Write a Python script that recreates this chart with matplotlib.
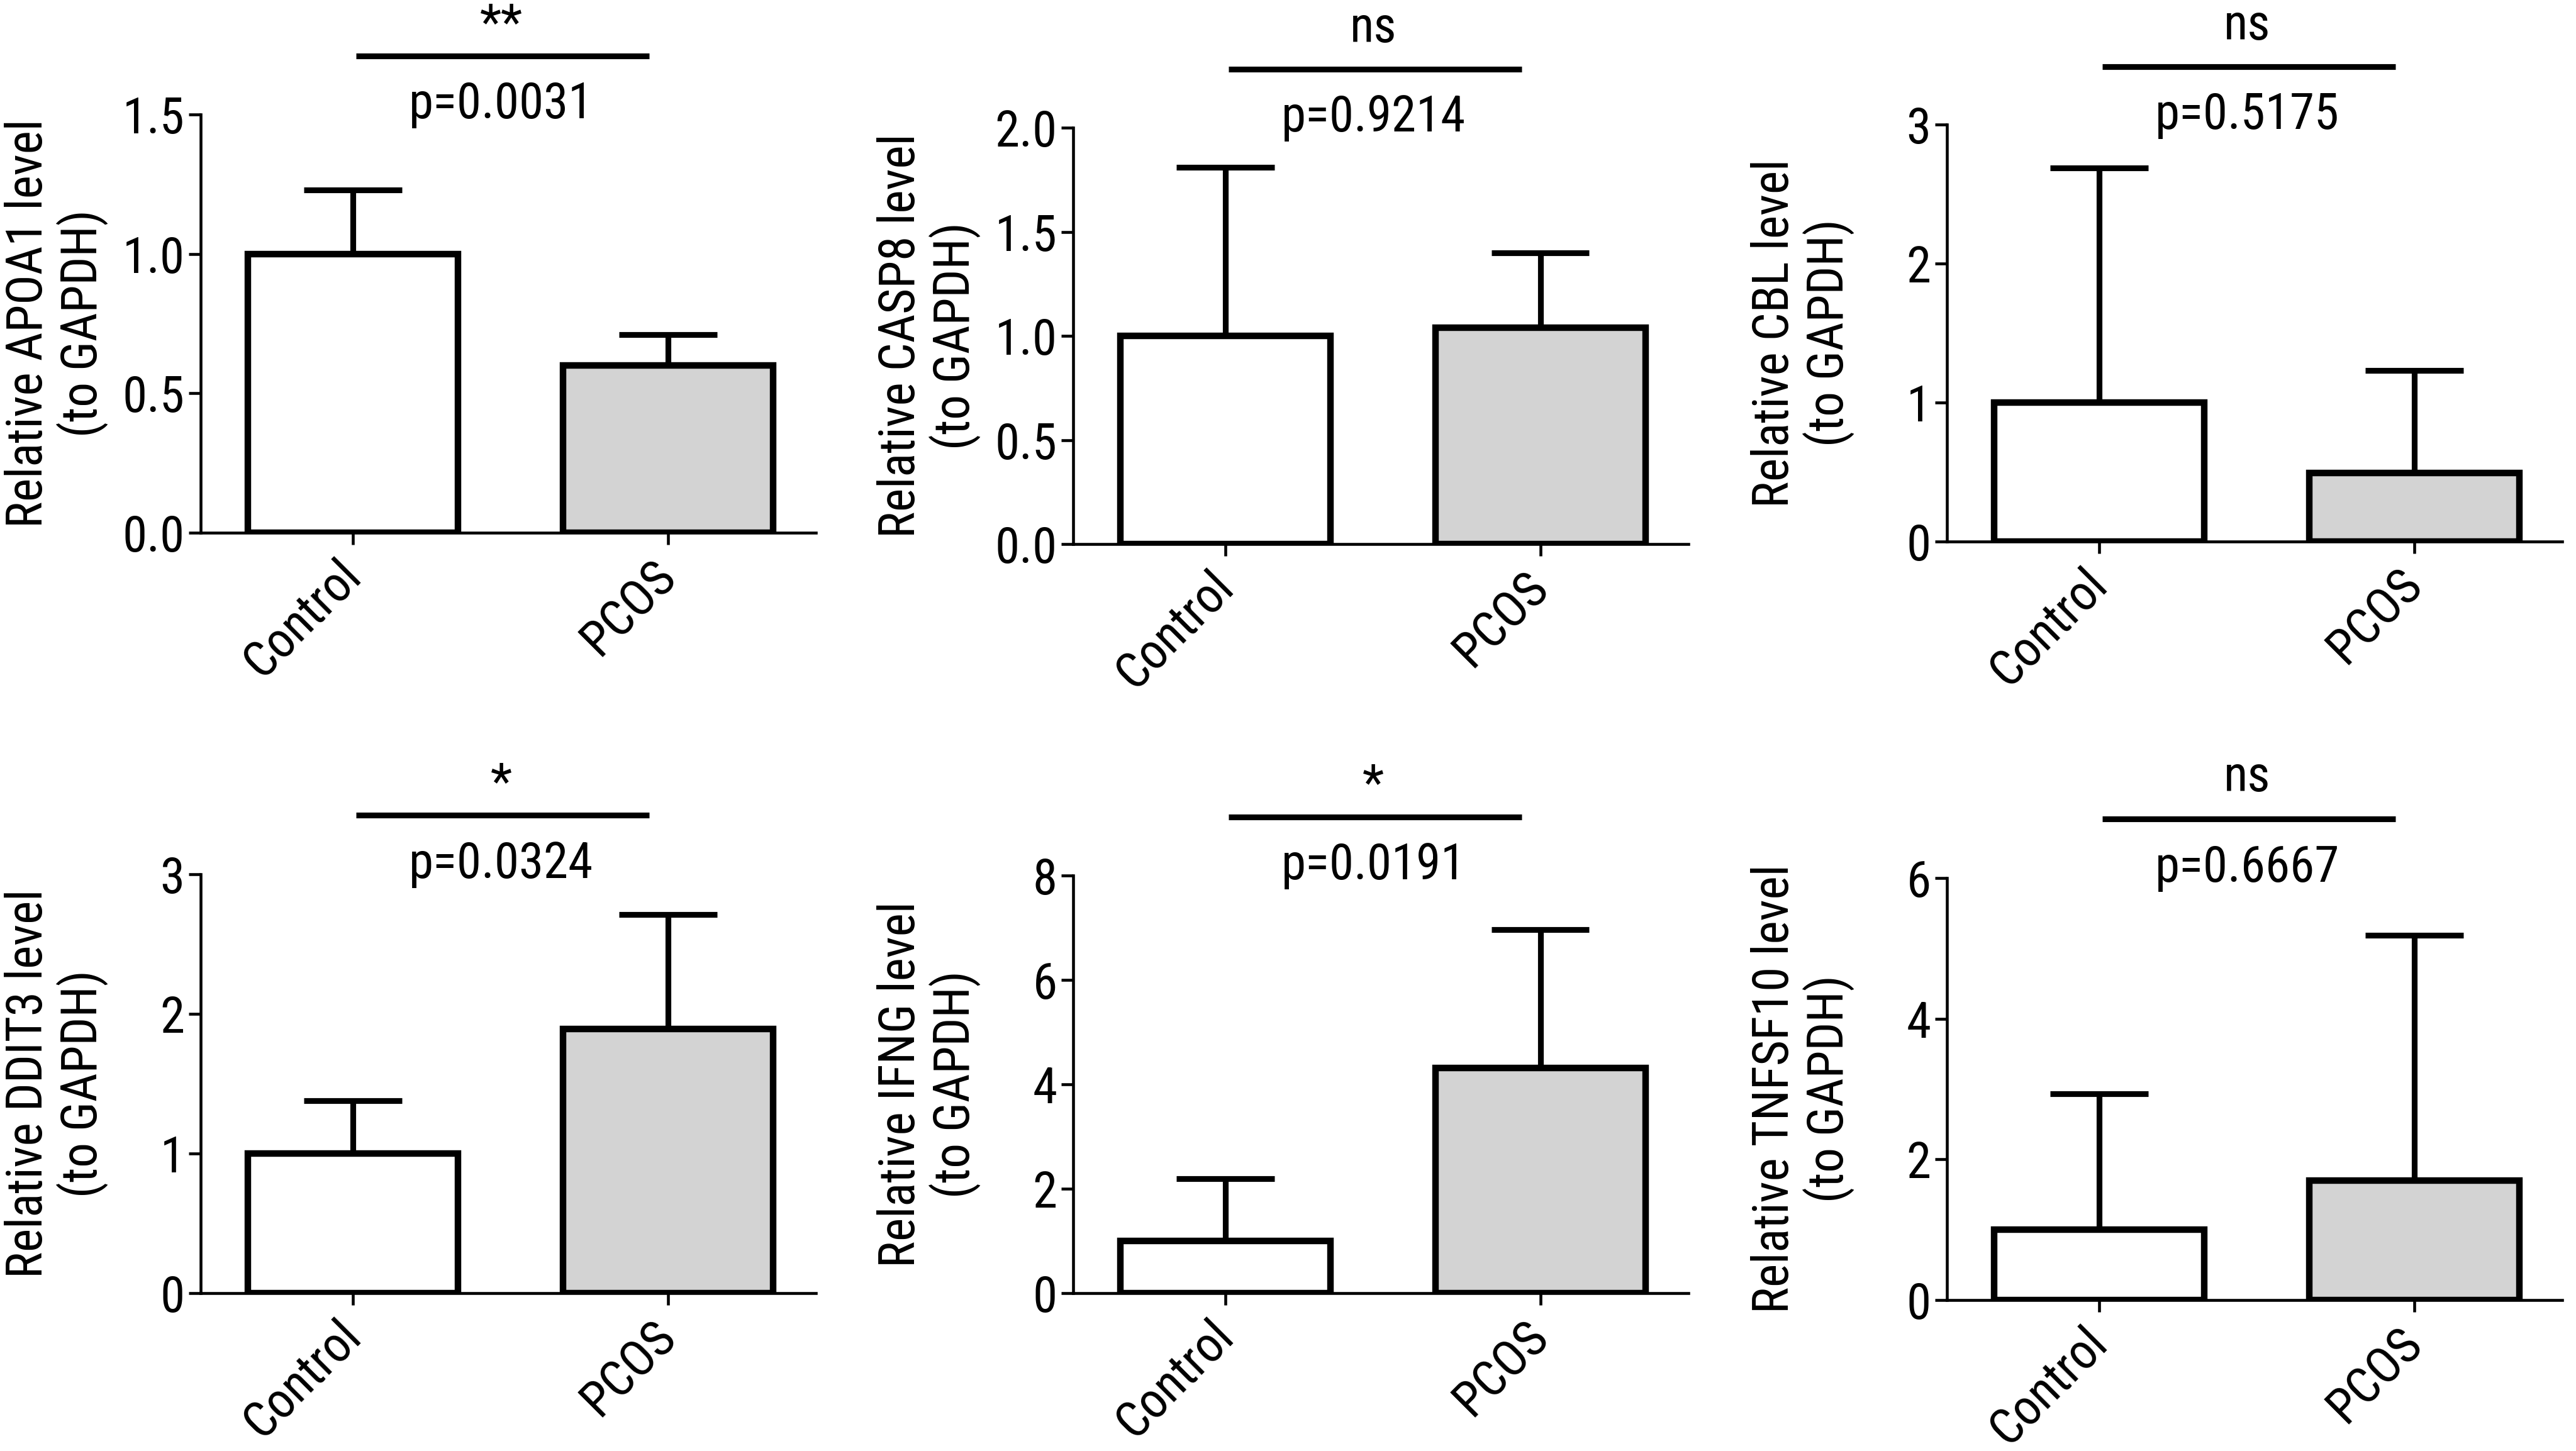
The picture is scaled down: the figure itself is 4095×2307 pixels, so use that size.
import matplotlib
matplotlib.use("Agg")
import matplotlib.pyplot as plt
from matplotlib import font_manager as fm
from matplotlib.font_manager import FontProperties
import numpy as np

# ---------------- data ----------------
groups = ["Control", "PCOS"]
genes = ["APOA1", "CASP8", "CBL", "DDIT3", "IFNG", "TNFSF10"]
means = {
    "APOA1": [1.0, 0.60],
    "CASP8": [1.0, 1.04],
    "CBL": [1.0, 0.49],
    "DDIT3": [1.0, 1.89],
    "IFNG": [1.0, 4.31],
    "TNFSF10": [1.0, 1.70],
}
err_top = {
    "APOA1": [1.23, 0.71],
    "CASP8": [1.81, 1.40],
    "CBL": [2.69, 1.23],
    "DDIT3": [1.38, 2.71],
    "IFNG": [2.19, 6.96],
    "TNFSF10": [2.93, 5.18],
}
yticks = {
    "APOA1": [0.0, 0.5, 1.0, 1.5],
    "CASP8": [0.0, 0.5, 1.0, 1.5, 2.0],
    "CBL": [0, 1, 2, 3],
    "DDIT3": [0, 1, 2, 3],
    "IFNG": [0, 2, 4, 6, 8],
    "TNFSF10": [0, 2, 4, 6],
}
tickfmt = {"APOA1": "{:.1f}", "CASP8": "{:.1f}", "CBL": "{:d}", "DDIT3": "{:d}", "IFNG": "{:d}", "TNFSF10": "{:d}"}
signif = {"APOA1": "**", "CASP8": "ns", "CBL": "ns", "DDIT3": "*", "IFNG": "*", "TNFSF10": "ns"}
pvals = {"APOA1": "p=0.0031", "CASP8": "p=0.9214", "CBL": "p=0.5175",
         "DDIT3": "p=0.0324", "IFNG": "p=0.0191", "TNFSF10": "p=0.6667"}
fills = ["white", "#d3d3d3"]

# ---------------- font choice (condensed Arial-like if available) ----------------
def pick_font():
    prefs = ["liberation sans narrow", "arial narrow", "roboto condensed",
             "open sans condensed", "noto sans condensed", "dejavu sans condensed"]
    found = {}
    for f in fm.fontManager.ttflist:
        low = (f.name + " " + f.fname.split("/")[-1]).lower()
        if not ("narrow" in low or "condensed" in low):
            continue
        if any(k in low for k in ["semi", "extra", "ultra", "bold", "italic", "light",
                                   "thin", "medium", "black", "oblique"]):
            continue
        for p in prefs:
            key = p.replace(" ", "")
            if key in low.replace(" ", "").replace("-", "") or p in low:
                found.setdefault(p, f.fname)
    for p in prefs:
        if p in found:
            return found[p], True
    return None, False

fpath, narrow = pick_font()
plt.rcParams['font.family'] = ['Liberation Sans', 'DejaVu Sans']
FS = 19.0 if narrow else 17.0


def fp(size=FS):
    if fpath:
        return FontProperties(fname=fpath, size=size)
    return FontProperties(family=['Liberation Sans', 'DejaVu Sans'], size=size)


fig = plt.figure(figsize=(13.65, 7.69), dpi=300)

rects = [
    [0.0778, 0.633, 0.239, 0.288],
    [0.4165, 0.625, 0.239, 0.287],
    [0.7557, 0.627, 0.239, 0.287],
    [0.0778, 0.1087, 0.239, 0.289],
    [0.4165, 0.1087, 0.239, 0.288],
    [0.7557, 0.104, 0.239, 0.291],
]

x = np.arange(len(groups))
bw = 0.667
for gene, rect in zip(genes, rects):
    ax = fig.add_axes(rect)
    m = means[gene]
    e = err_top[gene]
    for xi, mi, ei in zip(x, m, e):
        ax.vlines(xi, mi, ei, color='black', lw=2.2, zorder=1)
        ax.hlines(ei, xi - 0.155, xi + 0.155, color='black', lw=2.2, zorder=1)
    ax.bar(x, m, width=bw, color=fills, edgecolor='black', linewidth=2.5, zorder=2)
    yt = yticks[gene]
    ax.set_ylim(0, yt[-1])
    ax.set_xlim(-0.484, 1.47)
    ax.set_yticks(yt)
    ax.set_yticklabels([tickfmt[gene].format(t) for t in yt], fontproperties=fp())
    ax.set_xticks(x)
    ax.set_xticklabels(groups, fontproperties=fp(), rotation=45, ha='right', va='center',
                       rotation_mode='anchor')
    for s in ['top', 'right']:
        ax.spines[s].set_visible(False)
    for s in ['left', 'bottom']:
        ax.spines[s].set_linewidth(1.1)
    ax.tick_params(axis='both', direction='out', length=4.5, width=1.1)
    ax.tick_params(axis='y', pad=1.5)
    ax.tick_params(axis='x', pad=9)
    ax.set_ylabel(f"Relative {gene} level\n(to GAPDH)", fontproperties=fp(), linespacing=1.1)
    ax.yaxis.set_label_coords(-0.15, 0.5)
    tr = ax.get_xaxis_transform()
    ax.plot([x[0] + 0.01, x[1] - 0.06], [1.14, 1.14], transform=tr,
            color='black', lw=2.2, clip_on=False, solid_capstyle='butt')
    xc = 0.5 * (x[0] + x[1]) - 0.03
    star = signif[gene]
    ax.text(xc, 1.205 if star == "ns" else 1.18, star, transform=tr,
            ha='center', va='baseline', fontproperties=fp())
    ax.text(xc, 1.024, pvals[gene], transform=tr, ha='center', va='center', fontproperties=fp())

fig.savefig("out.png", dpi=300, facecolor='white')
